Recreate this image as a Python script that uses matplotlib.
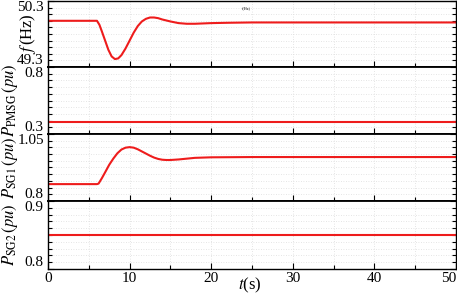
import matplotlib
matplotlib.use("Agg")
import matplotlib.pyplot as plt
from matplotlib.ticker import MultipleLocator

plt.rcParams['font.family'] = ['Liberation Serif', 'DejaVu Serif']
plt.rcParams['mathtext.fontset'] = 'stix'

# ---- data ----
t_f = [0, 5.5, 6.0, 6.3, 6.6, 7.0, 7.4, 7.8, 8.2, 8.6, 9.0, 9.5, 10.0, 10.5,
       11.0, 11.5, 12.0, 12.5, 13.0, 13.5, 14.0, 15.0, 16.0, 17.0, 18.0,
       19.0, 20.0, 22.0, 25.0, 30, 40, 50]
f_hz = [50.0, 50.0, 50.0, 49.94, 49.84, 49.70, 49.56, 49.46, 49.42, 49.43,
        49.48, 49.58, 49.70, 49.82, 49.92, 49.99, 50.03, 50.05, 50.05, 50.04,
        50.02, 49.99, 49.965, 49.955, 49.955, 49.96, 49.965, 49.97, 49.975,
        49.975, 49.975, 49.975]

t_pmsg = [0, 10, 20, 30, 40, 50]
p_pmsg = [0.39, 0.39, 0.39, 0.39, 0.39, 0.39]

t_sg1 = [0, 6.0, 6.2, 6.6, 7.0, 7.5, 8.0, 8.5, 9.0, 9.5, 10.0, 10.5, 11.0,
         11.5, 12.0, 12.5, 13.0, 13.5, 14.0, 14.5, 15.0, 16.0, 17.0, 18.0,
         20, 25, 30, 40, 50]
p_sg1 = [0.863, 0.863, 0.865, 0.885, 0.907, 0.935, 0.958, 0.978, 0.992,
         0.999, 1.001, 0.999, 0.993, 0.985, 0.977, 0.969, 0.962, 0.957,
         0.954, 0.953, 0.953, 0.955, 0.958, 0.961, 0.963, 0.964, 0.964,
         0.964, 0.964]

t_sg2 = [0, 10, 20, 30, 40, 50]
p_sg2 = [0.85, 0.85, 0.85, 0.85, 0.85, 0.85]

ylabels = [r'$f\,$(Hz)', r'$P_{\rm PMSG}\,(pu)$', r'$P_{\rm SG1}\,(pu)$', r'$P_{\rm SG2}\,(pu)$']
ylims = [(49.3, 50.3), (0.3, 0.8), (0.8, 1.05), (0.8, 0.9)]
ytick_labels = [('49.3', '50.3'), ('0.3', '0.8'), ('0.8', '1.05'), ('0.8', '0.9')]
x_ticks = [0, 10, 20, 30, 40, 50]

series = [(t_f, f_hz), (t_pmsg, p_pmsg), (t_sg1, p_sg1), (t_sg2, p_sg2)]

fig = plt.figure(figsize=(4.57, 2.94), dpi=100)
W, H = 457, 294
left, right = 48 / W, 456 / W
tops = [1, 67, 134, 201, 269]
label_x = [28, 10, 10, 10]
axes = []
for i in range(4):
    y0 = 1 - tops[i + 1] / H
    h = (tops[i + 1] - tops[i]) / H
    ax = fig.add_axes([left, y0, right - left, h])
    axes.append(ax)

red = '#ee1c1c'
for i, ax in enumerate(axes):
    t, v = series[i]
    ax.plot(t, v, color=red, lw=1.5, solid_joinstyle='round')
    lo, hi = ylims[i]
    ax.set_ylim(lo, hi)
    ax.set_xlim(0, 50)
    ax.set_yticks([lo, hi])
    ax.set_yticklabels(list(ytick_labels[i]))
    ax.yaxis.set_minor_locator(MultipleLocator((hi - lo) / 10))
    ax.xaxis.set_minor_locator(MultipleLocator(5))
    ax.set_xticks(x_ticks)
    ax.grid(True, which='both', color='#dcdcdc', ls=(0, (1, 2)), lw=0.6)
    ax.tick_params(axis='both', which='both', direction='in', right=True,
                   top=False, labelsize=11, pad=3)
    ax.tick_params(which='major', length=4, width=0.8)
    ax.tick_params(which='minor', length=3, width=0.8)
    labs = ax.get_yticklabels()
    labs[0].set_va('bottom')
    labs[1].set_va('top')
    for sp in ax.spines.values():
        sp.set_linewidth(1.0)
    if i > 0:
        ax.spines['top'].set_linewidth(1.3)
    if i < 3:
        ax.tick_params(axis='x', labelbottom=False)
        ax.spines['bottom'].set_linewidth(1.3)
    yc = 1 - (tops[i] + tops[i + 1]) / 2 / H
    fig.text(label_x[i] / W, yc, ylabels[i], rotation=90, fontsize=12,
             ha='center', va='center')

xl = axes[3].get_xticklabels()
xl[-1].set_ha('right')
xl[-1].set_x(50)
axes[3].tick_params(axis='x', pad=2)
fig.text(250 / W, 1 - 285 / H, r'$t$(s)',
         fontsize=12, ha='center', va='center')
axes[0].text(0.485, 0.9, 'f(Hz)', transform=axes[0].transAxes, fontsize=3,
             ha='center', va='center')

fig.savefig('out.png', dpi=100)
